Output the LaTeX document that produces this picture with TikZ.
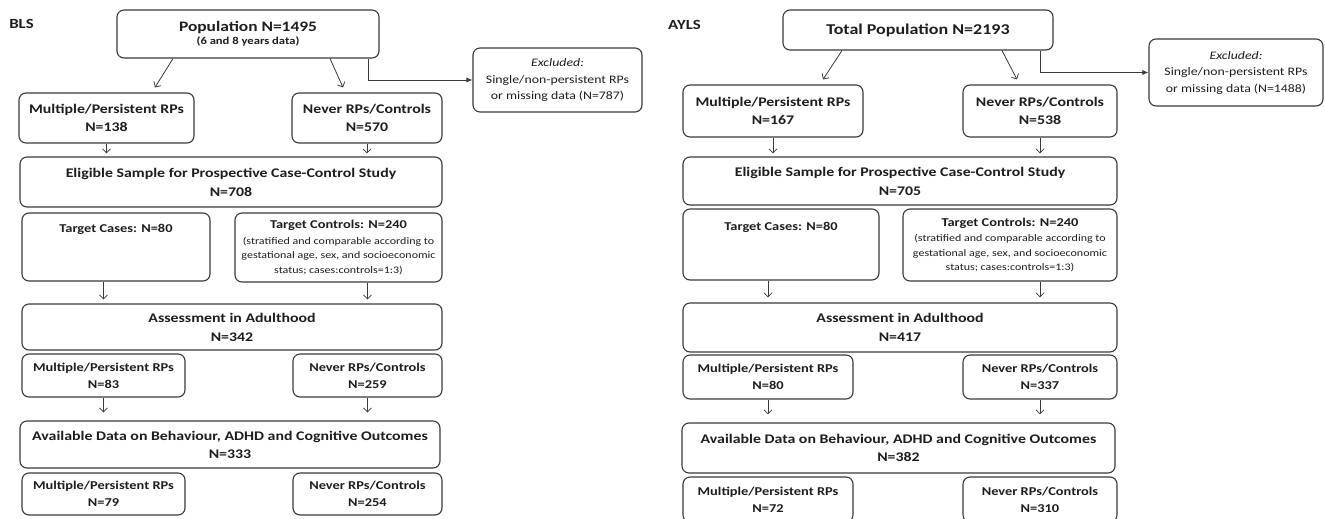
\documentclass[tikz,border=0pt]{standalone}
\usepackage{fontspec}
\setmainfont{Carlito}[FakeStretch=1.2]
\usetikzlibrary{arrows.meta}
\definecolor{ln}{HTML}{3A3A3A}
\definecolor{tx}{HTML}{1E1E1E}
\tikzset{
  box/.style={draw=ln, line width=1.1pt, rounded corners=7pt, fill=white, align=center, inner sep=0pt, text=tx},
  darr/.style={draw=ln, line width=0.8pt, -{Straight Barb[length=4pt,width=8pt]}},
  xarr/.style={draw=ln, line width=0.9pt, -{Latex[length=6pt,width=5pt]}},
  ttl/.style={font=\bfseries\fontsize{13.2}{19}\selectfont},
  grp/.style={font=\bfseries\fontsize{13.2}{18}\selectfont},
  sub/.style={font=\bfseries\fontsize{12}{17}\selectfont},
  exc/.style={font=\fontsize{11.5}{16.5}\selectfont},
  ctl/.style={font=\fontsize{10}{14.5}\selectfont},
  lbl/.style={font=\bfseries\fontsize{14}{16}\selectfont, text=tx, inner sep=0pt},
}
\begin{document}
\begin{tikzpicture}[x=1pt,y=-1pt]
\useasboundingbox (0,0) rectangle (1325,519);

% ================= BLS =================
\node[lbl] (bls) at (21.5,24) {BLS};
\node[box, minimum width=262pt, minimum height=48pt, font=\bfseries] (p1) at (248,34)
  {{\fontsize{14.5}{17}\selectfont Population N=1495}\\[1pt]{\fontsize{10.5}{12}\selectfont (6 and 8 years data)}};
\node[box, exc, minimum width=169pt, minimum height=64pt] (e1) at (557.5,80)
  {\textit{Excluded:}\\Single/non-persistent RPs\\or missing data (N=787)};
\node[box, grp, minimum width=175pt, minimum height=50pt] (m1a) at (106.5,118) {Multiple/Persistent RPs\\N=138};
\node[box, grp, minimum width=150pt, minimum height=50pt] (n1a) at (367,118) {Never RPs/Controls\\N=570};
\node[box, ttl, minimum width=422pt, minimum height=50pt] (el1) at (231,182) {Eligible Sample for Prospective Case-Control Study\\N=708};
\node[box, minimum width=188pt, minimum height=68pt] (tca1) at (116,247) {};
\node[sub, text=tx, inner sep=0pt] (tca1t) at (116,229) {Target Cases: N=80};
\node[box, ctl, minimum width=207pt, minimum height=69pt] (tct1) at (338.5,247.5)
  {{\bfseries\fontsize{12}{14}\selectfont Target Controls: N=240}\\[1pt](stratified and comparable according to\\gestational age, sex, and socioeconomic\\status; cases:controls=1:3)};
\node[box, ttl, minimum width=420pt, minimum height=46pt] (as1) at (232,327) {Assessment in Adulthood\\N=342};
\node[box, sub, minimum width=163pt, minimum height=43pt] (m2a) at (103.5,375.5) {Multiple/Persistent RPs\\N=83};
\node[box, sub, minimum width=149pt, minimum height=43pt] (n2a) at (367.5,375.5) {Never RPs/Controls\\N=259};
\node[box, font=\bfseries\fontsize{13.2}{18}\selectfont, minimum width=420pt, minimum height=47pt] (av1) at (230,444.5) {Available Data on Behaviour, ADHD and Cognitive Outcomes\\N=333};
\node[box, sub, minimum width=163pt, minimum height=42pt] (m3a) at (103.5,494) {Multiple/Persistent RPs\\N=79};
\node[box, sub, minimum width=149pt, minimum height=42pt] (n3a) at (367.5,494) {Never RPs/Controls\\N=254};

\draw[darr] ([xshift=-75pt]p1.south) -- ([xshift=48.5pt,yshift=5pt]m1a.north);
\draw[darr] ([xshift=82pt]p1.south) -- ([xshift=-24pt,yshift=5pt]n1a.north);
\draw[xarr] ([xshift=120pt]p1.south) |- (e1.west);
\draw[darr] (m1a.south) -- ([yshift=3pt]m1a.south |- el1.north);
\draw[darr] (n1a.south) -- ([yshift=3pt]n1a.south |- el1.north);
\draw[darr] (tca1.south -| m2a.south) -- ([yshift=4pt]m2a.south |- as1.north);
\draw[darr] (tct1.south -| n2a.south) -- ([yshift=4pt]n2a.south |- as1.north);
\draw[darr] (m2a.south) -- ([yshift=8pt]m2a.south |- av1.north);
\draw[darr] (n2a.south) -- ([yshift=8pt]n2a.south |- av1.north);

% ================= AYLS =================
\node[lbl] (ayls) at (684.5,25) {AYLS};
\node[box, font=\bfseries\fontsize{15}{18}\selectfont, minimum width=270pt, minimum height=40pt] (p2) at (918,30) {Total Population N=2193};
\node[box, exc, minimum width=174pt, minimum height=67pt] (e2) at (1236,72.5)
  {\textit{Excluded:}\\Single/non-persistent RPs\\or missing data (N=1488)};
\node[box, grp, minimum width=180pt, minimum height=52pt] (m1b) at (773,111) {Multiple/Persistent RPs\\N=167};
\node[box, grp, minimum width=154pt, minimum height=52pt] (n1b) at (1040,111) {Never RPs/Controls\\N=538};
\node[box, ttl, minimum width=434pt, minimum height=48pt] (el2) at (900,181) {Eligible Sample for Prospective Case-Control Study\\N=705};
\node[box, minimum width=196pt, minimum height=71pt] (tca2) at (781,244.5) {};
\node[sub, text=tx, inner sep=0pt] (tca2t) at (781,227) {Target Cases: N=80};
\node[box, ctl, minimum width=214pt, minimum height=72pt] (tct2) at (1010,245)
  {{\bfseries\fontsize{12}{14}\selectfont Target Controls: N=240}\\[1pt](stratified and comparable according to\\gestational age, sex, and socioeconomic\\status; cases:controls=1:3)};
\node[box, ttl, minimum width=434pt, minimum height=49pt] (as2) at (900,327.5) {Assessment in Adulthood\\N=417};
\node[box, sub, minimum width=170pt, minimum height=44pt] (m2b) at (768,377) {Multiple/Persistent RPs\\N=80};
\node[box, sub, minimum width=154pt, minimum height=44pt] (n2b) at (1040,377) {Never RPs/Controls\\N=337};
\node[box, font=\bfseries\fontsize{13.2}{18}\selectfont, minimum width=433pt, minimum height=50pt] (av2) at (898.5,448) {Available Data on Behaviour, ADHD and Cognitive Outcomes\\N=382};
\node[box, sub, minimum width=170pt, minimum height=45pt] (m3b) at (768,499.5) {Multiple/Persistent RPs\\N=72};
\node[box, sub, minimum width=154pt, minimum height=45pt] (n3b) at (1040,499.5) {Never RPs/Controls\\N=310};

\draw[darr] ([xshift=-76pt]p2.south) -- ([xshift=50pt,yshift=5pt]m1b.north);
\draw[darr] ([xshift=84pt]p2.south) -- ([xshift=-23pt,yshift=5pt]n1b.north);
\draw[xarr] ([xshift=122pt]p2.south) |- (e2.west);
\draw[darr] (m1b.south) -- ([yshift=3pt]m1b.south |- el2.north);
\draw[darr] (n1b.south) -- ([yshift=3pt]n1b.south |- el2.north);
\draw[darr] (tca2.south -| m2b.south) -- ([yshift=5pt]m2b.south |- as2.north);
\draw[darr] (tct2.south -| n2b.south) -- ([yshift=5pt]n2b.south |- as2.north);
\draw[darr] (m2b.south) -- ([yshift=8pt]m2b.south |- av2.north);
\draw[darr] (n2b.south) -- ([yshift=8pt]n2b.south |- av2.north);
\end{tikzpicture}
\end{document}
